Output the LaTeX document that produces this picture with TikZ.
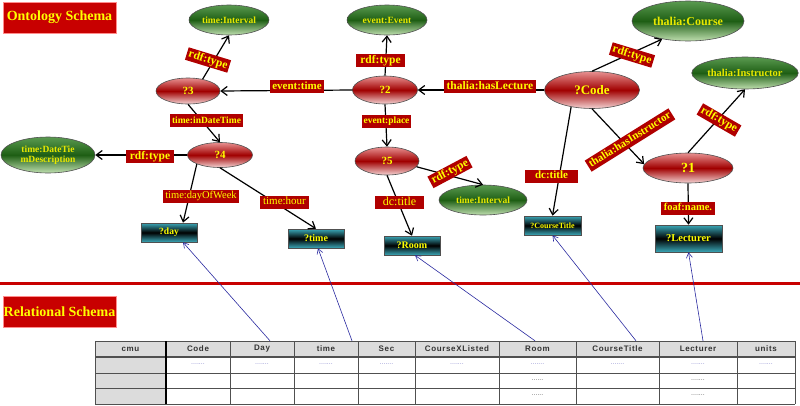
\documentclass[tikz,border=0pt]{standalone}
\usepackage{fontspec}
\setmainfont{Liberation Serif}
\setsansfont{Liberation Sans}
\newfontfamily\tblfont[LetterSpace=8]{Liberation Sans}
\usetikzlibrary{shapes.geometric,arrows.meta}
\definecolor{lblred}{HTML}{B00000}
\definecolor{ttlred}{HTML}{C80000}
\definecolor{yel}{HTML}{FFFF00}
\definecolor{gyel}{HTML}{E8E800}
\definecolor{edgeblue}{HTML}{2A2AA0}
\definecolor{rtop}{HTML}{E89090}
\definecolor{rmid}{HTML}{A00000}
\definecolor{rbot}{HTML}{F5D5D5}
\definecolor{gtop}{HTML}{5A9A50}
\definecolor{gmid}{HTML}{1E5E14}
\definecolor{gbot}{HTML}{C0E0B0}
\definecolor{ttop}{HTML}{3AA8B8}
\definecolor{tmid}{HTML}{000000}
\definecolor{hdrgray}{HTML}{DCDCDC}
\definecolor{gridgray}{HTML}{505050}
\definecolor{dotblue}{HTML}{8C8CD0}
\begin{document}
\begin{tikzpicture}[x=1pt,y=-1pt,
  redell/.style={ellipse, draw=gridgray, line width=0.6pt, top color=rtop, bottom color=rbot, middle color=rmid, text=yel, inner sep=0pt, font=\fontsize{11}{11}\selectfont\bfseries},
  greenell/.style={ellipse, draw=gridgray, line width=0.6pt, top color=gtop, bottom color=gbot, middle color=gmid, text=gyel, inner sep=0pt, align=center, font=\fontsize{9.5}{10.5}\selectfont\bfseries},
  tealbox/.style={rectangle, draw=gridgray, line width=0.6pt, top color=ttop, bottom color=ttop, middle color=tmid, text=yel, inner sep=0pt, font=\fontsize{10}{10}\selectfont\bfseries},
  lbl/.style={rectangle, fill=lblred, text=yel, inner xsep=2pt, inner ysep=1pt, text height=8pt, text depth=2.5pt, minimum height=13pt, font=\fontsize{10.5}{10.5}\selectfont\bfseries},
  lblr/.style={lbl, font=\fontsize{10.5}{10.5}\selectfont},
  ttl/.style={rectangle, fill=ttlred, draw=red!45!white, line width=0.6pt, text=yel, minimum width=113pt, minimum height=31pt, inner sep=0pt, font=\fontsize{14}{14}\selectfont\bfseries},
  arr/.style={-{Straight Barb[length=6pt,width=9pt]}, line width=1.2pt, black},
  bl/.style={-{Straight Barb[length=5pt,width=6pt]}, line width=0.6pt, edgeblue},
  hcell/.style={rectangle, minimum height=16pt, inner sep=0pt, text=black!80, font=\tblfont\fontsize{8}{8}\selectfont\bfseries},
  dotA/.style={inner sep=0pt, text=dotblue, font=\sffamily\fontsize{7}{7}\selectfont},
  dotB/.style={inner sep=0pt, text=black!60, font=\sffamily\fontsize{7}{7}\selectfont}
]
\useasboundingbox (0,0) rectangle (800,405);
\clip (0,0) rectangle (800,405);

% titles and separator
\node[ttl] (tOnt) at (59.5,17.5) {Ontology Schema};
\node[ttl] (tRel) at (59.5,311.5) {Relational Schema};
\draw[line width=3pt, ttlred] (0,283) -- (800,283);

% ontology nodes
\node[greenell, minimum width=80pt, minimum height=30pt] (ti1) at (229,20) {time:Interval};
\node[greenell, minimum width=80pt, minimum height=30pt] (ee) at (387,20) {event:Event};
\node[greenell, minimum width=112pt, minimum height=40pt, font=\fontsize{12}{12}\selectfont\bfseries] (tc) at (688,21) {thalia:Course};
\node[greenell, minimum width=106pt, minimum height=32pt, font=\fontsize{10.5}{10.5}\selectfont\bfseries] (tins) at (745,73) {thalia:Instructor};
\node[greenell, minimum width=94pt, minimum height=36pt] (tdd) at (48,155) {time:DateTie\\mDescription};
\node[greenell, minimum width=88pt, minimum height=30pt] (ti2) at (483,200) {time:Interval};

\node[redell, minimum width=64pt, minimum height=26pt] (n3) at (188,91) {?3};
\node[redell, minimum width=65pt, minimum height=28pt] (n2) at (385,90) {?2};
\node[redell, minimum width=95pt, minimum height=37pt, font=\fontsize{13}{13}\selectfont\bfseries] (code) at (592,90) {?Code};
\node[redell, minimum width=65pt, minimum height=25pt] (n4) at (220,155) {?4};
\node[redell, minimum width=64pt, minimum height=28pt] (n5) at (387,161) {?5};
\node[redell, minimum width=90pt, minimum height=30pt, font=\fontsize{14}{14}\selectfont\bfseries] (n1) at (688,168) {?1};

\node[tealbox, minimum width=56pt, minimum height=19pt, font=\fontsize{9.5}{9.5}\selectfont\bfseries] (day) at (169,232.5) {?day};
\node[tealbox, minimum width=56pt, minimum height=19pt] (tm) at (316,238.5) {?time};
\node[tealbox, minimum width=56pt, minimum height=19pt] (room) at (412,245.5) {?Room};
\node[tealbox, minimum width=57pt, minimum height=19pt, font=\fontsize{8}{8}\selectfont\bfseries] (ct) at (552.5,225.5) {?CourseTitle};
\node[tealbox, minimum width=67pt, minimum height=27pt, font=\fontsize{10.5}{10.5}\selectfont\bfseries] (lec) at (688.5,238.5) {?Lecturer};

% ontology edges
\draw[arr] (n3.39) -- (ti1.south);
\draw[arr] (n2.west) -- (n3.east);
\draw[arr] (n2.north) -- (ee.south);
\draw[arr] (code.west) -- (n2.east);
\draw[arr] (n2.south) -- (n5.north);
\draw[arr] (n3.south) -- (n4.north);
\draw[arr] (n4.west) -- (tdd.east);
\draw[arr] (n4.south west) -- ([xshift=14pt]day.north);
\draw[arr] (n4.south) -- (tm.north);
\draw[arr] (n5.south) -- (room.north);
\draw[arr] (n5.-11) -- (ti2.north);
\draw[arr] (code.north) -- (tc.215);
\draw[arr] (code.219) -- (ct.north);
\draw[arr] (code.south) -- (n1.175);
\draw[arr] (n1.north) -- (tins.south);
\draw[arr] (n1.south) -- (lec.north);

% edge labels
\node[lbl, rotate=-17, font=\fontsize{11.5}{11.5}\selectfont\bfseries] (l1) at (208,60) {rdf:type};
\node[lbl, minimum width=54pt, font=\fontsize{11}{11}\selectfont\bfseries] (l2) at (297,86.5) {event:time};
\node[lbl, minimum width=49pt, font=\fontsize{11.5}{11.5}\selectfont\bfseries] (l3) at (380.5,60.5) {rdf:type};
\node[lbl, minimum width=92pt, font=\fontsize{11.5}{11.5}\selectfont\bfseries] (l4) at (490,86.5) {thalia:hasLecture};
\node[lbl, minimum width=49pt, font=\fontsize{9.5}{9.5}\selectfont\bfseries] (l5) at (386.5,121) {event:place};
\node[lbl, minimum width=73pt, font=\fontsize{9.5}{9.5}\selectfont\bfseries] (l6) at (206.5,120.5) {time:inDateTime};
\node[lbl, minimum width=48pt, font=\fontsize{11.5}{11.5}\selectfont\bfseries] (l7) at (150,156.5) {rdf:type};
\node[lblr, minimum width=76pt] (l8) at (201,196) {time:dayOfWeek};
\node[lblr, minimum width=49pt, font=\fontsize{11}{11}\selectfont] (l9) at (284.5,202) {time:hour};
\node[lblr, minimum width=49pt, font=\fontsize{12}{12}\selectfont] (l10) at (399.5,202.5) {dc:title};
\node[lbl, rotate=28, font=\fontsize{11.5}{11.5}\selectfont\bfseries] (l11) at (450,172) {rdf:type};
\node[lbl, rotate=-17, font=\fontsize{11.5}{11.5}\selectfont\bfseries] (l12) at (632,55) {rdf:type};
\node[lbl, rotate=32, font=\fontsize{11}{11}\selectfont\bfseries] (l13) at (630,140) {thalia:hasInstructor};
\node[lbl, rotate=-30, font=\fontsize{11.5}{11.5}\selectfont\bfseries] (l14) at (719,120) {rdf:type};
\node[lbl, minimum width=53pt, font=\fontsize{11}{11}\selectfont\bfseries] (l15) at (551.5,176) {dc:title};
\node[lbl, minimum width=54pt] (l16) at (688,208) {foaf:name.};

% relational table
\fill[hdrgray] (95,341) rectangle (795,357);
\fill[hdrgray] (95,357) rectangle (166,404);
\foreach \yy in {341,357,373,388,404} \draw[gridgray, line width=0.9pt] (95,\yy) -- (795,\yy);
\draw[gridgray, line width=1.4pt] (95,357) -- (795,357);
\foreach \xx in {95,230,294,358,415,499,576,659,737,795} \draw[gridgray, line width=0.9pt] (\xx,341) -- (\xx,404);
\draw[black, line width=2pt] (166,341) -- (166,404);

\node[hcell, minimum width=71pt] (hcmu) at (130.5,349) {cmu};
\node[hcell, minimum width=64pt] (hCode) at (198,349) {Code};
\node[hcell, minimum width=64pt] (hDay) at (262,349) {Day};
\node[hcell, minimum width=64pt] (hTime) at (326,349) {time};
\node[hcell, minimum width=57pt] (hSec) at (386.5,349) {Sec};
\node[hcell, minimum width=84pt] (hCX) at (457,349) {CourseXListed};
\node[hcell, minimum width=77pt] (hRoom) at (537.5,349) {Room};
\node[hcell, minimum width=83pt] (hCT) at (617.5,349) {CourseTitle};
\node[hcell, minimum width=78pt] (hLec) at (698,349) {Lecturer};
\node[hcell, minimum width=58pt] (hUnits) at (766,349) {units};

\foreach \cx [count=\i] in {198,262,326,386.5,457,537.5,617.5,698,766}
  \node[dotA] (dA\i) at (\cx,364) {.......};
\node[dotB] (dB1) at (537.5,380) {......};
\node[dotB] (dB2) at (537.5,395.5) {......};
\node[dotB] (dB3) at (698,380) {.......};
\node[dotB] (dB4) at (698,395.5) {.......};

% mapping connectors
\draw[bl] ([xshift=8pt]hDay.north) -- ([xshift=14pt]day.south);
\draw[bl] ([xshift=26pt]hTime.north) -- ([xshift=2pt]tm.south);
\draw[bl] ([xshift=-2.5pt]hRoom.north) -- ([xshift=3pt]room.south);
\draw[bl] ([xshift=18.5pt]hCT.north) -- (ct.south);
\draw[bl] ([xshift=5pt]hLec.north) -- (lec.south);
\end{tikzpicture}
\end{document}
